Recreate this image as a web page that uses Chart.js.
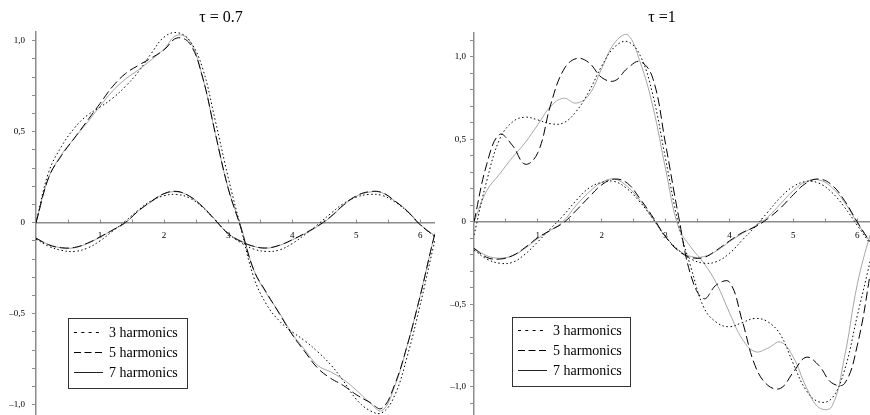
<!DOCTYPE html>
<html>
<head>
<meta charset="utf-8">
<script src="https://cdn.jsdelivr.net/npm/chart.js@4.4.0/dist/chart.umd.min.js"></script>
<style>
  html, body { margin: 0; padding: 0; background: #fff; }
  #wrap { position: relative; width: 870px; height: 415px; }
  canvas { position: absolute; top: 0; }
  #left { left: 0; }
  #right { left: 435px; }
</style>
</head>
<body>
<div id="wrap">
  <canvas id="left" width="435" height="415"></canvas>
  <canvas id="right" width="435" height="415"></canvas>
</div>
<script>
// sample positions along the x axis (0 .. 2π)
const xs = [0, 0.2, 0.4, 0.6, 0.8, 1.0, 1.2, 1.4, 1.6, 1.8, 2.0, 2.2, 2.4, 2.6, 2.8, 3.0,
            3.2, 3.4, 3.6, 3.8, 4.0, 4.2, 4.4, 4.6, 4.8, 5.0, 5.2, 5.4, 5.6, 5.8, 6.0, 6.2, 6.28];

// tau = 0.7, large curves
const tau07Big3 = [0, 0.28, 0.42, 0.52, 0.59, 0.635, 0.685, 0.75, 0.83, 0.93, 1.02, 1.045, 1.0, 0.85, 0.56, 0.25,
                   -0.03, -0.30, -0.45, -0.54, -0.60, -0.65, -0.71, -0.78, -0.87, -0.97, -1.03, -1.045, -0.95, -0.73, -0.45, -0.14, -0.03];
const tau07Big5 = [0, 0.25, 0.37, 0.465, 0.56, 0.655, 0.75, 0.82, 0.865, 0.905, 0.95, 1.015, 0.985, 0.80, 0.49, 0.19,
                   -0.03, -0.26, -0.385, -0.50, -0.615, -0.71, -0.80, -0.855, -0.895, -0.945, -0.985, -1.02, -0.89, -0.67, -0.40, -0.10, 0];
const tau07Big7 = [0, 0.25, 0.375, 0.465, 0.55, 0.64, 0.725, 0.79, 0.84, 0.895, 0.955, 1.03, 1.0, 0.80, 0.49, 0.19,
                   -0.02, -0.26, -0.39, -0.495, -0.61, -0.70, -0.785, -0.82, -0.862, -0.92, -0.985, -1.033, -0.90, -0.67, -0.40, -0.10, 0];
// tau = 0.7, small curves
const tau07Small3 = [-0.09, -0.13, -0.152, -0.158, -0.14, -0.10, -0.045, 0.01, 0.07, 0.12, 0.148, 0.155, 0.135, 0.085, 0.015, -0.06,
                     -0.11, -0.145, -0.158, -0.15, -0.115, -0.065, -0.01, 0.05, 0.105, 0.14, 0.155, 0.15, 0.115, 0.06, -0.01, -0.07, -0.09];
const tau07Small5 = [-0.085, -0.122, -0.138, -0.136, -0.113, -0.078, -0.04, 0.002, 0.065, 0.117, 0.16, 0.172, 0.145, 0.088, 0.013, -0.06,
                     -0.103, -0.13, -0.139, -0.124, -0.094, -0.058, -0.018, 0.033, 0.097, 0.147, 0.17, 0.166, 0.12, 0.062, -0.012, -0.067, -0.085];
const tau07Small7 = [-0.085, -0.12, -0.138, -0.138, -0.115, -0.08, -0.04, 0.0, 0.065, 0.115, 0.158, 0.17, 0.145, 0.09, 0.015, -0.06,
                     -0.10, -0.13, -0.14, -0.125, -0.095, -0.06, -0.02, 0.03, 0.095, 0.145, 0.168, 0.165, 0.12, 0.065, -0.01, -0.065, -0.085];

// tau = 1, large curves
const tau1Big3 = [-0.08, 0.25, 0.50, 0.605, 0.635, 0.618, 0.595, 0.60, 0.67, 0.79, 0.945, 1.06, 1.093, 1.01, 0.77, 0.38,
                  -0.01, -0.28, -0.52, -0.61, -0.635, -0.61, -0.585, -0.605, -0.685, -0.86, -1.02, -1.09, -1.07, -0.90, -0.57, -0.24, -0.08];
const tau1Big5 = [0, 0.35, 0.53, 0.465, 0.35, 0.42, 0.71, 0.92, 0.99, 0.965, 0.875, 0.855, 0.93, 0.972, 0.87, 0.47,
                  0.04, -0.33, -0.465, -0.38, -0.365, -0.60, -0.87, -0.99, -1.008, -0.91, -0.82, -0.87, -0.975, -0.98, -0.75, -0.32, -0.08];
const tau1Big7 = [0, 0.19, 0.29, 0.39, 0.48, 0.59, 0.70, 0.75, 0.72, 0.77, 0.93, 1.085, 1.135, 0.97, 0.70, 0.32,
                  -0.03, -0.155, -0.25, -0.375, -0.55, -0.71, -0.786, -0.765, -0.728, -0.82, -1.0, -1.125, -1.12, -0.82, -0.38, -0.08, 0];
// tau = 1, small curves
const tau1Small3 = [-0.17, -0.225, -0.25, -0.245, -0.195, -0.12, -0.04, 0.04, 0.13, 0.205, 0.24, 0.245, 0.20, 0.12, 0.02, -0.09,
                    -0.17, -0.225, -0.25, -0.24, -0.19, -0.11, -0.03, 0.06, 0.15, 0.215, 0.245, 0.235, 0.18, 0.09, -0.02, -0.13, -0.17];
const tau1Small5 = [-0.16, -0.215, -0.225, -0.205, -0.155, -0.095, -0.05, -0.005, 0.07, 0.15, 0.225, 0.26, 0.235, 0.14, 0.03, -0.09,
                    -0.175, -0.215, -0.215, -0.17, -0.115, -0.065, -0.03, 0.02, 0.085, 0.165, 0.235, 0.26, 0.225, 0.13, 0.0, -0.12, -0.16];
const tau1Small7 = [-0.16, -0.205, -0.22, -0.205, -0.16, -0.10, -0.05, 0.005, 0.10, 0.18, 0.24, 0.26, 0.215, 0.13, 0.02, -0.09,
                    -0.17, -0.21, -0.21, -0.175, -0.12, -0.07, -0.025, 0.03, 0.11, 0.19, 0.245, 0.255, 0.21, 0.12, -0.005, -0.12, -0.16];

const legendLabels = ['3 harmonics', '5 harmonics', '7 harmonics'];
const titles = ['\u03c4 = 0.7', '\u03c4 =1'];

// line looks: dotted, dashed, light solid
const styles = [
  { color: '#000', dash: [1.5, 2.5], legendDash: [3, 4.3], legendColor: '#000' },
  { color: '#000', dash: [9, 4], legendDash: [7, 3.5], legendColor: '#000' },
  { color: '#a6a6a6', dash: [], legendDash: [], legendColor: '#222' }
];
const axisColor = '#8c8c8c';
const tickFont = { family: "'Liberation Serif', 'Times New Roman', serif", size: 9 };

const isStep = (v, s) => Math.abs(v / s - Math.round(v / s)) < 1e-6;
const fmtY = v => {
  if (Math.abs(v) < 1e-9) return '0';
  return (Math.round(v * 10) / 10).toFixed(1).replace('.', ',').replace('-', '\u2013');
};

// title + boxed legend inside the plot
const decorPlugin = {
  id: 'decor',
  afterDraw(chart, args, opts) {
    const ctx = chart.ctx;
    ctx.save();
    ctx.fillStyle = '#000';
    ctx.font = "16px 'Liberation Serif', serif";
    ctx.textAlign = 'center';
    ctx.textBaseline = 'middle';
    ctx.fillText(opts.title, opts.titleX, 18);

    const b = opts.box;
    ctx.fillStyle = '#fff';
    ctx.fillRect(b.x, b.y, b.w, b.h);
    ctx.strokeStyle = '#333';
    ctx.lineWidth = 1;
    ctx.strokeRect(b.x + 0.5, b.y + 0.5, b.w, b.h);

    legendLabels.forEach((label, i) => {
      const y = b.y + b.first + i * 20;
      ctx.beginPath();
      ctx.strokeStyle = styles[i].legendColor;
      ctx.setLineDash(styles[i].legendDash);
      ctx.moveTo(b.x + 6, y + 0.5);
      ctx.lineTo(b.x + 35, y + 0.5);
      ctx.stroke();
      ctx.setLineDash([]);
      ctx.fillStyle = '#000';
      ctx.font = "14px 'Liberation Serif', serif";
      ctx.textAlign = 'left';
      ctx.fillText(label, b.x + 41, y + 1);
    });
    ctx.restore();
  }
};

function makeDatasets(groups) {
  const sets = [];
  groups.forEach(group => {
    group.forEach((ys, i) => {
      sets.push({
        label: legendLabels[i],
        data: xs.map((x, k) => ({ x: x, y: ys[k] })),
        borderColor: styles[i].color,
        borderDash: styles[i].dash,
        borderWidth: 1,
        pointRadius: 0,
        fill: false,
        tension: 0.4
      });
    });
  });
  // first dataset is drawn on top, so keep the light solid ones last
  return sets.sort((a, b) => legendLabels.indexOf(a.label) - legendLabels.indexOf(b.label));
}

function makeChart(id, groups, p) {
  new Chart(document.getElementById(id), {
    type: 'line',
    data: { datasets: makeDatasets(groups) },
    plugins: [decorPlugin],
    options: {
      responsive: false,
      animation: false,
      layout: { padding: { top: p.top, left: 0, right: 0, bottom: 0 } },
      plugins: {
        legend: { display: false },
        tooltip: { enabled: false },
        decor: { title: p.title, titleX: p.titleX, box: p.box }
      },
      scales: {
        x: {
          type: 'linear',
          min: 0,
          max: p.xMax,
          position: { y: 0 },
          afterFit: s => { s.paddingLeft = 0; s.paddingRight = 0; },
          border: { display: true, color: axisColor, width: 1.5 },
          grid: {
            drawOnChartArea: false,
            tickLength: -4,
            tickColor: c => isStep(c.tick.value, 0.5) ? axisColor : 'rgba(0,0,0,0)'
          },
          ticks: {
            stepSize: 0.5,
            includeBounds: false,
            autoSkip: false,
            maxRotation: 0,
            padding: 12,
            color: '#000',
            font: tickFont,
            callback: v => (isStep(v, 1) && Math.abs(v) > 1e-9) ? String(Math.round(v)) : ''
          }
        },
        y: {
          type: 'linear',
          min: p.yMin,
          max: p.yMax,
          position: 'left',
          afterFit: s => { s.width = p.axisX; s.paddingTop = 0; s.paddingBottom = 0; },
          border: { display: true, color: axisColor, width: 1.5 },
          grid: {
            drawOnChartArea: false,
            tickLength: 4,
            tickColor: c => isStep(c.tick.value, 0.1) ? axisColor : 'rgba(0,0,0,0)'
          },
          ticks: {
            stepSize: 0.1,
            includeBounds: false,
            autoSkip: false,
            padding: p.labelPad,
            color: '#000',
            font: tickFont,
            callback: v => isStep(v, 0.5) ? fmtY(v) : ''
          }
        }
      }
    }
  });
}

makeChart('left', [[tau07Big3, tau07Big5, tau07Big7], [tau07Small3, tau07Small5, tau07Small7]], {
  title: titles[0], titleX: 221, top: 32, xMax: 6.23, yMin: -1.057, yMax: 1.048,
  axisX: 36, labelPad: 7, box: { x: 68, y: 318, w: 119, h: 70, first: 14 }
});
makeChart('right', [[tau1Big3, tau1Big5, tau1Big7], [tau1Small3, tau1Small5, tau1Small7]], {
  title: titles[1], titleX: 227, top: 33, xMax: 6.2, yMin: -1.17, yMax: 1.145,
  axisX: 39, labelPad: 4, box: { x: 77, y: 317, w: 118, h: 69, first: 13 }
});
</script>
</body>
</html>
